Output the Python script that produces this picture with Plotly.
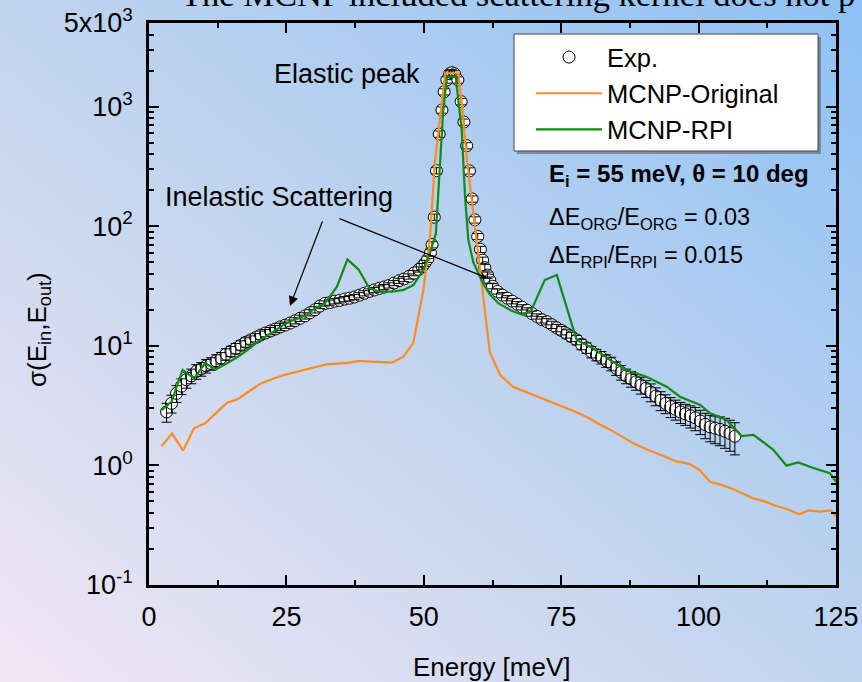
import base64
import math
import plotly.graph_objects as go

# ---------------- data ----------------
E_exp = [3.2, 4.1, 5.0, 5.9, 6.8, 7.7, 8.6, 9.5, 10.4, 11.3,
         12.2, 13.1, 14.0, 14.9, 15.8, 16.7, 17.6, 18.5, 19.4, 20.3,
         21.2, 22.1, 23.0, 23.9, 24.8, 25.7, 26.6, 27.5, 28.4, 29.3,
         30.2, 31.1, 32.0, 32.9, 33.8, 34.7, 35.6, 36.5, 37.4, 38.3,
         39.2, 40.1, 41.0, 41.9, 42.8, 43.7, 44.6, 45.5, 46.4, 47.3,
         48.2, 49.1,
         49.7, 50.2, 50.7, 51.2, 51.5, 51.9, 52.3, 52.8, 53.3, 53.7,
         54.2, 54.7, 55.1, 55.6, 56.2, 56.8, 57.3, 57.8, 58.3, 58.8,
         59.3, 59.8, 60.3, 60.7, 61.1, 61.6, 62.0,
         62.5, 63.4, 64.3, 65.2, 66.1, 67.0, 67.9, 68.8, 69.7, 70.6,
         71.5, 72.4, 73.3, 74.2, 75.1, 76.0, 76.9, 77.8, 78.7, 79.6,
         80.5, 81.4, 82.3, 83.2, 84.1, 85.0, 85.9, 86.8, 87.7, 88.6,
         89.5, 90.4, 91.3, 92.2, 93.1, 94.0, 94.9, 95.8, 96.7, 97.6,
         98.5, 99.4, 100.3, 101.2, 102.1, 103.0, 103.9, 104.8, 105.7, 106.6]
S_exp = [2.8, 3.3, 4.0, 4.6, 5.2, 5.6, 6.1, 6.4, 6.8, 7.1,
         7.5, 7.9, 8.5, 9.0, 9.5, 10.1, 10.7, 11.2, 11.7, 12.3,
         12.8, 13.3, 13.8, 14.4, 14.9, 15.5, 16.2, 17.0, 17.8, 18.9,
         20.0, 21.5, 22.6, 23.0, 23.6, 24.0, 24.6, 25.0, 25.6, 26.5,
         27.5, 28.5, 29.3, 30.2, 31.0, 32.0, 33.5, 35.0, 36.2, 38.0,
         40.5, 43.5,
         46.0, 49.0, 53.0, 60.0, 70.0, 119, 291, 590, 937, 1330,
         1670, 1880, 1920, 1880, 1670, 1100, 743, 471, 290, 169,
         113, 82, 64, 52, 45, 39, 35.5,
         31.5, 28.5, 26.5, 25.0, 23.6, 22.3, 21.0, 19.8, 18.6, 17.6,
         16.5, 15.9, 15.0, 14.1, 13.4, 12.6, 11.9, 11.2, 10.3, 9.6,
         8.9, 8.4, 8.0, 7.5, 7.1, 6.5, 6.0, 5.6, 5.3, 5.0,
         4.7, 4.4, 4.1, 3.8, 3.5, 3.3, 3.1, 2.95, 2.8, 2.7,
         2.6, 2.5, 2.35, 2.2, 2.1, 2.05, 2.0, 1.93, 1.85, 1.75]
S_err_pct = [18, 17, 16, 15, 15, 14, 14, 13, 13, 12,
             12, 11, 11, 10, 10, 9, 9, 8, 8, 8,
             7, 7, 7, 7, 6, 6, 6, 6, 6, 6,
             6, 5, 5, 5, 5, 5, 5, 5, 5, 5,
             5, 5, 5, 5, 5, 5, 5, 5, 5, 5,
             5, 5,
             6, 6, 6, 6, 6, 6, 6, 6, 6, 6,
             6, 6, 6, 6, 6, 6, 6, 6, 6, 6,
             6, 6, 6, 6, 6, 6, 6,
             5, 5, 5, 5, 5, 5, 5, 5, 5, 5,
             6, 6, 7, 7, 8, 8, 9, 9, 10, 10,
             11, 11, 12, 12, 13, 13, 14, 14, 15, 15,
             16, 16, 17, 17, 18, 18, 19, 19, 20, 20,
             21, 22, 23, 24, 25, 26, 27, 28, 29, 30]

E_org = [2.3, 4.2, 6.2, 8.2, 10.2, 12.2, 14.2, 16.2, 18.3, 20.2,
         22.3, 24.3, 26.3, 28.4, 30.3, 32.3, 34.2, 36.1, 38.1, 40.1,
         42.2, 44.2, 46.3, 48.1, 49.9, 51.1, 52.0, 53.1, 53.9, 56.3,
         56.9, 57.8, 58.7, 59.6, 60.8, 62.0, 63.9, 66.2, 68.1, 70.0,
         72.0, 74.0, 76.0, 78.0, 80.1, 82.0, 84.0, 86.0, 88.1, 90.0,
         92.0, 94.1, 96.0, 98.3, 100.1, 102.1, 104.0, 106.0, 108.1, 110.0,
         112.0, 114.0, 116.2, 118.3, 120.0, 122.0, 124.0, 125.0]
S_org = [1.45, 1.85, 1.33, 2.04, 2.25, 2.76, 3.34, 3.59, 4.19, 4.80,
         5.25, 5.65, 5.96, 6.36, 6.65, 7.0, 7.1, 7.2, 7.46, 7.36,
         7.28, 7.22, 8.1, 10.6, 29, 77, 336, 940, 1900, 1900,
         1070, 383, 176, 72, 26, 8.9, 5.7, 4.55, 4.2, 3.88,
         3.6, 3.3, 3.0, 2.75, 2.48, 2.2, 1.98, 1.75, 1.53, 1.40,
         1.28, 1.16, 1.08, 1.03, 0.92, 0.73, 0.69, 0.64, 0.58, 0.53,
         0.50, 0.46, 0.43, 0.39, 0.42, 0.41, 0.42, 0.37]

E_rpi = [2.3, 4.1, 6.1, 8.2, 10.2, 12.2, 14.2, 16.2, 18.3, 20.2,
         22.6, 24.4, 26.3, 28.7, 30.2, 32.0, 34.2, 36.1, 38.1, 40.1,
         42.0, 44.2, 46.3, 48.1, 49.9, 51.1, 52.2, 53.5, 54.2, 55.8,
         56.9, 57.5, 58.1, 59.0, 60.8, 62.0, 63.6, 66.1, 68.1, 69.6,
         72.0, 74.2, 77.8, 80.8, 83.9, 86.9, 90.5, 94.2, 96.6, 100.3,
         102.1, 105.1, 107.8, 110.0, 113.6, 116.0, 118.1, 120.9, 123.9, 125.0]
S_rpi = [2.9, 3.41, 6.28, 5.35, 7.14, 6.36, 7.14, 8.1, 9.5, 11.2,
         13.1, 14.9, 16.4, 18.1, 20.6, 22.6, 31.2, 52.8, 43.6, 30.3,
         28.3, 28.3, 29.3, 32.2, 43, 59.3, 87, 880, 1780, 1780,
         640, 177, 77, 50, 33, 27, 22.6, 19.5, 18.1, 19.9,
         35.5, 39.1, 11.2, 9.53, 7.6, 6.28, 5.52, 4.55, 3.75, 3.2,
         2.73, 2.4, 1.76, 1.8, 1.35, 0.995, 1.06, 0.95, 0.86, 0.73]

x_ticks = [0, 25, 50, 75, 100, 125]
x_minor = [12.5, 37.5, 62.5, 87.5, 112.5]
y_ticks = [0.1, 1, 10, 100, 1000, 5000]
y_ticktext = ["10<sup>-1</sup>", "10<sup>0</sup>", "10<sup>1</sup>",
              "10<sup>2</sup>", "10<sup>3</sup>", "5x10<sup>3</sup>"]
y_minor = [m * d for d in (0.1, 1, 10, 100) for m in range(2, 10)] + [2000, 3000, 4000]

# ---------------- figure geometry ----------------
W, H = 862, 682
ML, MR, MT, MB = 149, 26, 23, 97
PW, PH = W - ML - MR, H - MT - MB

def px(xp):
    return (xp - ML) / PW

def py(yp):
    return (H - MB - yp) / PH

FONT = "Liberation Sans, Arial, sans-serif"

err = [p / 100.0 * s for p, s in zip(S_err_pct, S_exp)]

fig = go.Figure()
fig.add_trace(go.Scatter(
    x=E_exp, y=S_exp, mode="markers", name="Exp.",
    marker=dict(symbol="circle", size=12, color="white",
                line=dict(color="black", width=1)),
))
# error bars drawn over the open circles (as in the reference)
fig.add_trace(go.Scatter(
    x=E_exp, y=S_exp, mode="markers", name="Exp. error", showlegend=False,
    hoverinfo="skip",
    marker=dict(size=1, color="rgba(0,0,0,0)"),
    error_y=dict(type="data", array=err, color="black", thickness=1, width=5),
))
fig.add_trace(go.Scatter(
    x=E_org, y=S_org, mode="lines", name="MCNP-Original",
    line=dict(color="#ff8a1e", width=2.2),
))
fig.add_trace(go.Scatter(
    x=E_rpi, y=S_rpi, mode="lines", name="MCNP-RPI",
    line=dict(color="#138a13", width=2.2),
))

# gradient background (svg data uri)
svg = (
    '<svg xmlns="http://www.w3.org/2000/svg" width="862" height="682" '
    'viewBox="0 0 862 682" preserveAspectRatio="none">'
    '<defs><linearGradient id="g" x1="0" y1="1" x2="1" y2="0">'
    '<stop offset="0" stop-color="#f1e6f5"/>'
    '<stop offset="0.5" stop-color="#c0d4ee"/>'
    '<stop offset="1" stop-color="#8ec1f6"/>'
    '</linearGradient></defs>'
    '<rect x="0" y="0" width="862" height="682" fill="url(#g)"/></svg>'
)
src = "data:image/svg+xml;base64," + base64.b64encode(svg.encode()).decode()

axis_common = dict(
    showline=True, linecolor="black", linewidth=2.5, mirror="allticks",
    ticks="inside", ticklen=10, tickwidth=1.6, tickcolor="black",
    showgrid=False, zeroline=False, automargin=False,
    tickfont=dict(family=FONT, size=27, color="black"),
)

# legend frame (white box with a soft shadow) behind the real legend
LB = dict(x0=514, x1=818, y0=34, y1=151)
shapes = [
    dict(type="rect", xref="paper", yref="paper", layer="above",
         x0=px(LB["x0"] + 3), x1=px(LB["x1"] + 3),
         y0=py(LB["y1"] + 3), y1=py(LB["y0"] + 3),
         fillcolor="rgba(90,90,90,0.55)", line=dict(width=0)),
    dict(type="rect", xref="paper", yref="paper", layer="above",
         x0=px(LB["x0"]), x1=px(LB["x1"]),
         y0=py(LB["y1"]), y1=py(LB["y0"]),
         fillcolor="white", line=dict(color="#444", width=1)),
]

fig.update_layout(
    width=W, height=H,
    autosize=False,
    margin=dict(l=ML, r=MR, t=MT, b=MB, pad=0),
    paper_bgcolor="rgba(0,0,0,0)",
    plot_bgcolor="rgba(0,0,0,0)",
    showlegend=True,
    shapes=shapes,
    images=[dict(source=src, xref="paper", yref="paper",
                 x=px(0), y=py(0), sizex=W / PW, sizey=H / PH,
                 xanchor="left", yanchor="top", sizing="stretch",
                 layer="below")],
    xaxis=dict(range=[0, 125], tickvals=x_ticks,
               ticklabelstandoff=6,
               minor=dict(tickvals=x_minor, ticks="inside", ticklen=5,
                          tickwidth=1.6, tickcolor="black"),
               **axis_common),
    yaxis=dict(type="log", range=[-1, math.log10(5000)],
               tickvals=y_ticks, ticktext=y_ticktext,
               ticklabelstandoff=8,
               minor=dict(tickvals=y_minor, ticks="inside", ticklen=5,
                          tickwidth=1.6, tickcolor="black"),
               **axis_common),
    legend=dict(x=px(531), y=py(34), xanchor="left", yanchor="top",
                bgcolor="rgba(0,0,0,0)", borderwidth=0,
                font=dict(family=FONT, size=25.5, color="black"),
                itemwidth=66, tracegroupgap=0),
    annotations=[
        dict(text="The MCNP included scattering kernel does not p",
             xref="paper", yref="paper", x=px(179), y=py(15),
             xanchor="left", yanchor="bottom", showarrow=False,
             font=dict(family="Liberation Serif, Times New Roman, serif",
                       size=34.5, color="black")),
        dict(text="Energy [meV]", xref="paper", yref="paper",
             x=px(492), y=py(667), xanchor="center", yanchor="middle",
             showarrow=False, font=dict(family=FONT, size=26, color="black")),
        dict(text="σ(E<sub>in</sub>,E<sub>out</sub>)", xref="paper", yref="paper",
             x=px(38), y=py(330), xanchor="center", yanchor="middle",
             textangle=-90, showarrow=False,
             font=dict(family=FONT, size=26, color="black")),
        dict(text="Elastic peak", xref="paper", yref="paper",
             x=px(272), y=py(74), xanchor="left", yanchor="middle",
             showarrow=False, font=dict(family=FONT, size=27, color="black")),
        dict(text="Inelastic Scattering", xref="paper", yref="paper",
             x=px(163), y=py(197), xanchor="left", yanchor="middle",
             showarrow=False, font=dict(family=FONT, size=27, color="black")),
        dict(text="<b>E<sub>i</sub> = 55 meV, θ = 10 deg</b>", xref="paper", yref="paper",
             x=px(547), y=py(176), xanchor="left", yanchor="middle",
             showarrow=False, font=dict(family=FONT, size=24, color="black")),
        dict(text="ΔE<sub>ORG</sub>/E<sub>ORG</sub> = 0.03", xref="paper", yref="paper",
             x=px(547), y=py(218), xanchor="left", yanchor="middle",
             showarrow=False, font=dict(family=FONT, size=23.5, color="black")),
        dict(text="ΔE<sub>RPI</sub>/E<sub>RPI</sub> = 0.015", xref="paper", yref="paper",
             x=px(547), y=py(256), xanchor="left", yanchor="middle",
             showarrow=False, font=dict(family=FONT, size=23.5, color="black")),
        # arrows from "Inelastic Scattering"
        dict(text="", xref="paper", yref="paper", x=px(290), y=py(306),
             axref="pixel", ayref="pixel", ax=33, ay=-86,
             showarrow=True, arrowhead=2, arrowsize=1.6, arrowwidth=1.2,
             arrowcolor="black", standoff=0, startstandoff=0),
        dict(text="", xref="paper", yref="paper", x=px(487), y=py(278),
             axref="pixel", ayref="pixel", ax=-149, ay=-60,
             showarrow=True, arrowhead=2, arrowsize=1.0, arrowwidth=1.2,
             arrowcolor="black", standoff=0, startstandoff=0),
    ],
)

fig.write_html("out.html",
               config={"displayModeBar": False},
               post_script="document.body.style.margin='0';"
                           "document.body.style.overflow='hidden';")
